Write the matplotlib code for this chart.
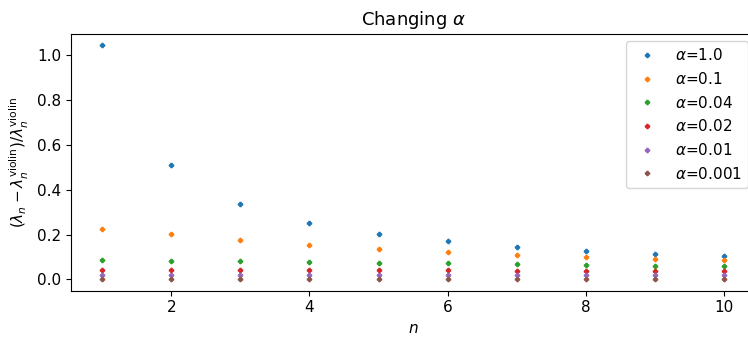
import matplotlib
matplotlib.use("Agg")
import matplotlib.pyplot as plt
import numpy as np

n = [1, 2, 3, 4, 5, 6, 7, 8, 9, 10]
labels = [r"$\alpha$=1.0", r"$\alpha$=0.1", r"$\alpha$=0.04", r"$\alpha$=0.02", r"$\alpha$=0.01", r"$\alpha$=0.001"]
a_1 = [1.045, 0.510, 0.3375, 0.253, 0.202, 0.170, 0.144, 0.126, 0.113, 0.1025]
a_01 = [0.2245, 0.202, 0.175, 0.153, 0.135, 0.120, 0.1085, 0.098, 0.089, 0.085]
a_004 = [0.085, 0.083, 0.081, 0.077, 0.074, 0.071, 0.068, 0.0625, 0.061, 0.059]
a_002 = [0.0415, 0.0415, 0.041, 0.041, 0.040, 0.040, 0.039, 0.039, 0.038, 0.038]
a_001 = [0.0205, 0.0205, 0.0205, 0.0205, 0.020, 0.020, 0.020, 0.020, 0.020, 0.020]
a_0001 = [0.002, 0.002, 0.002, 0.002, 0.002, 0.002, 0.002, 0.002, 0.002, 0.002]
series = [a_1, a_01, a_004, a_002, a_001, a_0001]

fig = plt.figure(figsize=(7.48, 3.38), dpi=100)
ax = fig.add_axes([0.0949, 0.1405, 0.915, 0.760])
for ys, lab in zip(series, labels):
    ax.plot(n, ys, linestyle="none", marker="P", markersize=3, label=lab)
ax.set_title(r"Changing $\alpha$", fontsize=13)
ax.set_xlabel(r"$n$", fontsize=11)
ax.set_ylabel(r"$(\lambda_n - \lambda_n^{\mathrm{violin}})/\lambda_n^{\mathrm{violin}}$", fontsize=11)
ax.set_xticks([2, 4, 6, 8, 10])
ax.tick_params(labelsize=11)
ax.legend(loc="upper right", fontsize=11)
fig.savefig("out.png", dpi=100)
